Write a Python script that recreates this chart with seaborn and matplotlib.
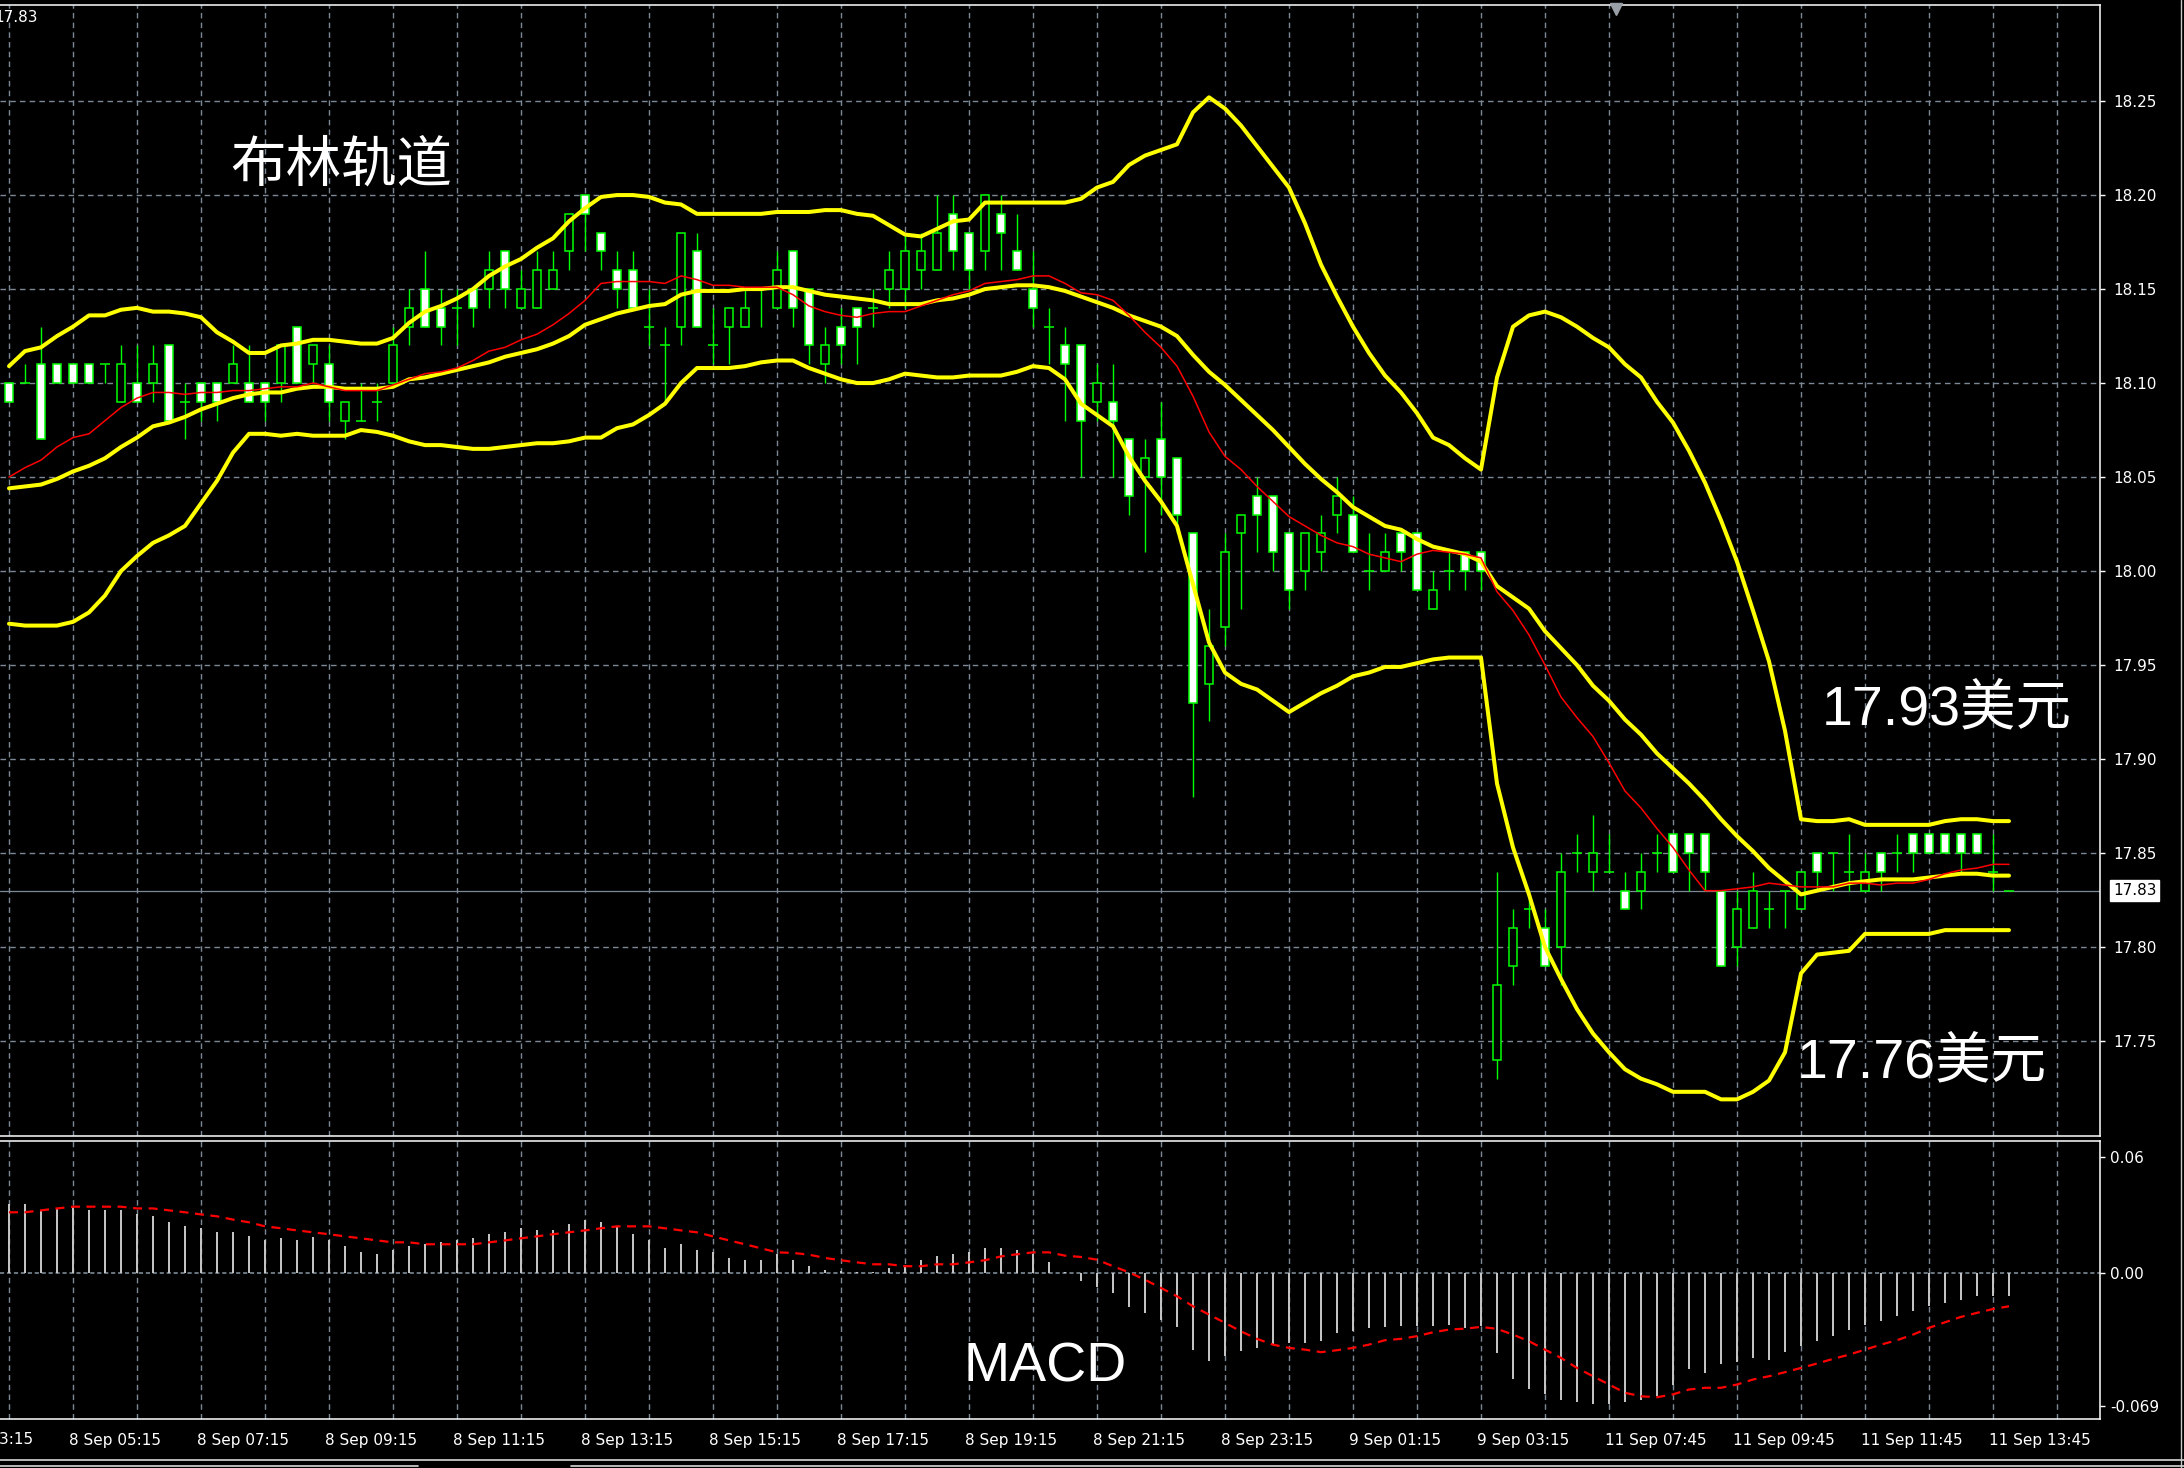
import numpy as np
import matplotlib
matplotlib.use("Agg")
import matplotlib.pyplot as plt
import seaborn as sns
from matplotlib.lines import Line2D
from matplotlib.transforms import ScaledTranslation

# ---------------- 15-minute candles (bar index 0..125) ----------------
open_ = [18.10, 18.10, 18.11, 18.11, 18.11, 18.11, 18.11, 18.09, 18.10, 18.10,
         18.12, 18.09, 18.10, 18.10, 18.10, 18.10, 18.10, 18.10, 18.13, 18.11,
         18.11, 18.08, 18.08, 18.09, 18.10, 18.13, 18.15, 18.14, 18.14, 18.15,
         18.15, 18.17, 18.14, 18.14, 18.15, 18.17, 18.20, 18.18, 18.16, 18.16,
         18.13, 18.12, 18.13, 18.17, 18.12, 18.13, 18.13, 18.15, 18.14, 18.17,
         18.15, 18.11, 18.13, 18.14, 18.14, 18.15, 18.15, 18.16, 18.16, 18.19,
         18.18, 18.17, 18.19, 18.17, 18.15, 18.13, 18.12, 18.12, 18.09, 18.09,
         18.07, 18.05, 18.07, 18.06, 18.02, 17.94, 17.97, 18.02, 18.04, 18.04,
         18.02, 18.00, 18.01, 18.03, 18.03, 18.00, 18.00, 18.02, 18.02, 17.98,
         18.00, 18.01, 18.01, 17.74, 17.79, 17.82, 17.81, 17.80, 17.85, 17.84,
         17.84, 17.83, 17.83, 17.85, 17.86, 17.86, 17.86, 17.83, 17.80, 17.81,
         17.82, 17.83, 17.82, 17.85, 17.85, 17.84, 17.83, 17.85, 17.85, 17.86,
         17.86, 17.86, 17.86, 17.86, 17.84, 17.83]
high = [18.10, 18.11, 18.13, 18.11, 18.11, 18.11, 18.11, 18.12, 18.12, 18.12,
        18.12, 18.10, 18.10, 18.10, 18.12, 18.12, 18.10, 18.12, 18.13, 18.12,
        18.12, 18.09, 18.10, 18.10, 18.13, 18.15, 18.17, 18.15, 18.15, 18.15,
        18.17, 18.17, 18.16, 18.17, 18.17, 18.19, 18.20, 18.18, 18.17, 18.17,
        18.15, 18.13, 18.18, 18.18, 18.14, 18.14, 18.15, 18.15, 18.17, 18.17,
        18.15, 18.13, 18.14, 18.14, 18.15, 18.17, 18.18, 18.18, 18.20, 18.20,
        18.18, 18.20, 18.20, 18.19, 18.17, 18.14, 18.13, 18.12, 18.11, 18.11,
        18.07, 18.07, 18.09, 18.06, 18.02, 17.98, 18.02, 18.03, 18.05, 18.04,
        18.02, 18.02, 18.03, 18.05, 18.04, 18.02, 18.02, 18.02, 18.02, 18.00,
        18.01, 18.01, 18.01, 17.84, 17.82, 17.83, 17.82, 17.85, 17.86, 17.87,
        17.86, 17.84, 17.85, 17.86, 17.86, 17.86, 17.86, 17.83, 17.83, 17.84,
        17.83, 17.83, 17.84, 17.85, 17.85, 17.86, 17.85, 17.85, 17.86, 17.86,
        17.86, 17.86, 17.86, 17.86, 17.86, 17.83]
low = [18.09, 18.10, 18.07, 18.10, 18.10, 18.10, 18.10, 18.09, 18.09, 18.09,
       18.08, 18.07, 18.08, 18.08, 18.10, 18.09, 18.08, 18.09, 18.10, 18.10,
       18.08, 18.07, 18.08, 18.08, 18.10, 18.12, 18.13, 18.12, 18.12, 18.13,
       18.14, 18.14, 18.14, 18.14, 18.15, 18.16, 18.17, 18.16, 18.14, 18.14,
       18.12, 18.09, 18.12, 18.13, 18.11, 18.11, 18.13, 18.13, 18.14, 18.13,
       18.11, 18.10, 18.11, 18.11, 18.13, 18.14, 18.14, 18.15, 18.16, 18.16,
       18.15, 18.16, 18.16, 18.16, 18.13, 18.11, 18.08, 18.05, 18.08, 18.05,
       18.03, 18.01, 18.03, 18.02, 17.88, 17.92, 17.96, 17.98, 18.01, 18.00,
       17.98, 17.99, 18.00, 18.02, 18.01, 17.99, 18.00, 18.00, 17.99, 17.98,
       17.99, 17.99, 17.99, 17.73, 17.78, 17.81, 17.79, 17.78, 17.84, 17.83,
       17.84, 17.82, 17.82, 17.84, 17.84, 17.83, 17.83, 17.79, 17.79, 17.81,
       17.81, 17.81, 17.82, 17.83, 17.83, 17.83, 17.83, 17.83, 17.84, 17.84,
       17.85, 17.85, 17.84, 17.85, 17.83, 17.83]
close = [18.09, 18.10, 18.07, 18.10, 18.10, 18.10, 18.11, 18.11, 18.09, 18.11,
         18.08, 18.09, 18.09, 18.09, 18.11, 18.09, 18.09, 18.12, 18.10, 18.12,
         18.09, 18.09, 18.08, 18.09, 18.12, 18.14, 18.13, 18.13, 18.14, 18.14,
         18.16, 18.15, 18.15, 18.16, 18.16, 18.19, 18.19, 18.17, 18.15, 18.14,
         18.13, 18.12, 18.18, 18.13, 18.12, 18.14, 18.14, 18.15, 18.16, 18.14,
         18.12, 18.12, 18.12, 18.13, 18.14, 18.16, 18.17, 18.17, 18.18, 18.17,
         18.16, 18.20, 18.18, 18.16, 18.14, 18.13, 18.11, 18.08, 18.10, 18.08,
         18.04, 18.06, 18.05, 18.03, 17.93, 17.96, 18.01, 18.03, 18.03, 18.01,
         17.99, 18.02, 18.02, 18.04, 18.01, 18.00, 18.01, 18.01, 17.99, 17.99,
         18.00, 18.00, 18.00, 17.78, 17.81, 17.82, 17.79, 17.84, 17.85, 17.85,
         17.84, 17.82, 17.84, 17.85, 17.84, 17.85, 17.84, 17.79, 17.82, 17.83,
         17.82, 17.83, 17.84, 17.84, 17.85, 17.84, 17.84, 17.84, 17.85, 17.85,
         17.85, 17.85, 17.85, 17.85, 17.84, 17.83]

# ---------------- Bollinger bands (20) and fast moving average ----------------
bb_upper = [18.109, 18.117, 18.119, 18.125, 18.130, 18.136, 18.136, 18.139, 18.140, 18.138,
            18.138, 18.137, 18.135, 18.127, 18.122, 18.116, 18.116, 18.120, 18.121, 18.123,
            18.123, 18.122, 18.121, 18.121, 18.124, 18.132, 18.138, 18.141, 18.145, 18.150,
            18.157, 18.162, 18.166, 18.172, 18.177, 18.186, 18.193, 18.199, 18.200, 18.200,
            18.199, 18.196, 18.195, 18.190, 18.190, 18.190, 18.190, 18.190, 18.191, 18.191,
            18.191, 18.192, 18.192, 18.190, 18.189, 18.184, 18.179, 18.178, 18.182, 18.186,
            18.187, 18.196, 18.196, 18.196, 18.196, 18.196, 18.196, 18.198, 18.204, 18.207,
            18.216, 18.221, 18.224, 18.227, 18.244, 18.252, 18.246, 18.237, 18.226, 18.215,
            18.204, 18.185, 18.163, 18.146, 18.130, 18.116, 18.104, 18.095, 18.084, 18.071,
            18.067, 18.060, 18.054, 18.103, 18.130, 18.136, 18.138, 18.135, 18.130, 18.124,
            18.119, 18.110, 18.103, 18.090, 18.079, 18.064, 18.047, 18.027, 18.005, 17.979,
            17.952, 17.915, 17.868, 17.867, 17.867, 17.868, 17.865, 17.865, 17.865, 17.865,
            17.865, 17.867, 17.868, 17.868, 17.867, 17.867]
bb_middle = [18.044, 18.045, 18.046, 18.049, 18.053, 18.056, 18.060, 18.066, 18.071, 18.077,
             18.079, 18.082, 18.086, 18.089, 18.092, 18.094, 18.095, 18.095, 18.097, 18.098,
             18.098, 18.097, 18.097, 18.097, 18.098, 18.102, 18.103, 18.105, 18.107, 18.109,
             18.111, 18.114, 18.116, 18.118, 18.121, 18.125, 18.131, 18.134, 18.137, 18.139,
             18.141, 18.142, 18.147, 18.149, 18.149, 18.149, 18.150, 18.150, 18.151, 18.151,
             18.149, 18.147, 18.146, 18.145, 18.144, 18.142, 18.142, 18.142, 18.144, 18.145,
             18.147, 18.150, 18.151, 18.152, 18.152, 18.151, 18.149, 18.146, 18.143, 18.140,
             18.136, 18.133, 18.130, 18.125, 18.115, 18.106, 18.099, 18.091, 18.083, 18.075,
             18.066, 18.057, 18.049, 18.042, 18.034, 18.029, 18.024, 18.022, 18.017, 18.013,
             18.011, 18.009, 18.005, 17.992, 17.986, 17.980, 17.968, 17.959, 17.950, 17.939,
             17.931, 17.921, 17.913, 17.903, 17.895, 17.887, 17.878, 17.868, 17.859, 17.851,
             17.842, 17.835, 17.828, 17.830, 17.832, 17.834, 17.835, 17.836, 17.836, 17.836,
             17.837, 17.838, 17.839, 17.839, 17.838, 17.838]
bb_lower = [17.972, 17.971, 17.971, 17.971, 17.973, 17.978, 17.987, 18.000, 18.008, 18.015,
            18.019, 18.024, 18.036, 18.048, 18.063, 18.073, 18.073, 18.072, 18.073, 18.072,
            18.072, 18.072, 18.075, 18.074, 18.072, 18.069, 18.067, 18.067, 18.066, 18.065,
            18.065, 18.066, 18.067, 18.068, 18.068, 18.069, 18.071, 18.071, 18.076, 18.078,
            18.083, 18.089, 18.100, 18.108, 18.108, 18.108, 18.109, 18.111, 18.112, 18.112,
            18.108, 18.105, 18.102, 18.100, 18.100, 18.102, 18.105, 18.104, 18.103, 18.103,
            18.104, 18.104, 18.104, 18.106, 18.109, 18.108, 18.102, 18.089, 18.083, 18.077,
            18.061, 18.048, 18.037, 18.024, 17.993, 17.962, 17.946, 17.940, 17.937, 17.931,
            17.925, 17.930, 17.935, 17.939, 17.944, 17.946, 17.949, 17.949, 17.951, 17.953,
            17.954, 17.954, 17.954, 17.887, 17.853, 17.828, 17.800, 17.783, 17.767, 17.754,
            17.744, 17.735, 17.730, 17.727, 17.723, 17.723, 17.723, 17.719, 17.719, 17.723,
            17.729, 17.744, 17.786, 17.796, 17.797, 17.798, 17.807, 17.807, 17.807, 17.807,
            17.807, 17.809, 17.809, 17.809, 17.809, 17.809]
fast_ma = [18.050, 18.055, 18.059, 18.066, 18.071, 18.073, 18.080, 18.087, 18.092, 18.095,
           18.095, 18.094, 18.095, 18.095, 18.096, 18.096, 18.097, 18.098, 18.098, 18.100,
           18.098, 18.096, 18.096, 18.096, 18.099, 18.102, 18.105, 18.106, 18.108, 18.112,
           18.117, 18.119, 18.123, 18.126, 18.131, 18.137, 18.144, 18.153, 18.154, 18.154,
           18.154, 18.153, 18.157, 18.155, 18.152, 18.152, 18.151, 18.151, 18.151, 18.147,
           18.141, 18.138, 18.136, 18.135, 18.137, 18.138, 18.138, 18.141, 18.144, 18.147,
           18.149, 18.153, 18.154, 18.155, 18.157, 18.157, 18.153, 18.148, 18.147, 18.144,
           18.136, 18.127, 18.119, 18.109, 18.093, 18.074, 18.061, 18.054, 18.045, 18.037,
           18.029, 18.024, 18.019, 18.015, 18.013, 18.009, 18.007, 18.005, 18.009, 18.011,
           18.010, 18.009, 18.007, 17.989, 17.979, 17.966, 17.950, 17.933, 17.922, 17.912,
           17.898, 17.883, 17.874, 17.863, 17.853, 17.841, 17.830, 17.830, 17.831, 17.832,
           17.834, 17.833, 17.832, 17.832, 17.832, 17.834, 17.834, 17.833, 17.834, 17.834,
           17.836, 17.839, 17.841, 17.842, 17.844, 17.844]

# ---------------- MACD histogram and signal line ----------------
macd_hist = [0.0360, 0.0360, 0.0328, 0.0332, 0.0346, 0.0328, 0.0328, 0.0328, 0.0308, 0.0297,
             0.0266, 0.0245, 0.0233, 0.0214, 0.0214, 0.0194, 0.0173, 0.0181, 0.0173, 0.0185,
             0.0173, 0.0142, 0.0111, 0.0100, 0.0121, 0.0142, 0.0152, 0.0162, 0.0173, 0.0183,
             0.0204, 0.0214, 0.0235, 0.0225, 0.0225, 0.0256, 0.0277, 0.0266, 0.0239, 0.0204,
             0.0173, 0.0131, 0.0152, 0.0121, 0.0111, 0.0080, 0.0069, 0.0069, 0.0100, 0.0069,
             0.0038, 0.0017, 0.0009, 0.0004, 0.0004, 0.0026, 0.0043, 0.0069, 0.0090, 0.0100,
             0.0111, 0.0131, 0.0131, 0.0121, 0.0100, 0.0059, 0.0003, -0.0043, -0.0075, -0.0104,
             -0.0176, -0.0207, -0.0242, -0.0280, -0.0398, -0.0458, -0.0429, -0.0406, -0.0389, -0.0372,
             -0.0363, -0.0363, -0.0354, -0.0311, -0.0303, -0.0285, -0.0280, -0.0273, -0.0277, -0.0277,
             -0.0268, -0.0285, -0.0277, -0.0415, -0.0550, -0.0600, -0.0630, -0.0660, -0.0670, -0.0680,
             -0.0680, -0.0670, -0.0660, -0.0640, -0.0580, -0.0500, -0.0520, -0.0470, -0.0460, -0.0440,
             -0.0450, -0.0410, -0.0380, -0.0354, -0.0328, -0.0294, -0.0268, -0.0251, -0.0225, -0.0199,
             -0.0173, -0.0156, -0.0138, -0.0121, -0.0118, -0.0118]
macd_signal = [0.0315, 0.0315, 0.0325, 0.0335, 0.0344, 0.0344, 0.0344, 0.0344, 0.0335, 0.0335,
               0.0325, 0.0315, 0.0304, 0.0294, 0.0277, 0.0263, 0.0242, 0.0232, 0.0221, 0.0211,
               0.0201, 0.0190, 0.0180, 0.0169, 0.0159, 0.0159, 0.0149, 0.0149, 0.0149, 0.0149,
               0.0159, 0.0169, 0.0180, 0.0190, 0.0201, 0.0211, 0.0221, 0.0232, 0.0242, 0.0242,
               0.0242, 0.0232, 0.0221, 0.0211, 0.0190, 0.0169, 0.0149, 0.0128, 0.0107, 0.0104,
               0.0095, 0.0078, 0.0066, 0.0055, 0.0045, 0.0045, 0.0035, 0.0035, 0.0045, 0.0045,
               0.0055, 0.0066, 0.0086, 0.0097, 0.0107, 0.0107, 0.0090, 0.0083, 0.0069, 0.0035,
               0.0003, -0.0035, -0.0078, -0.0121, -0.0173, -0.0216, -0.0259, -0.0303, -0.0342, -0.0372,
               -0.0389, -0.0398, -0.0411, -0.0401, -0.0389, -0.0372, -0.0349, -0.0342, -0.0328, -0.0308,
               -0.0294, -0.0289, -0.0280, -0.0290, -0.0320, -0.0354, -0.0398, -0.0441, -0.0493, -0.0536,
               -0.0579, -0.0622, -0.0640, -0.0645, -0.0630, -0.0605, -0.0596, -0.0596, -0.0579, -0.0553,
               -0.0536, -0.0515, -0.0493, -0.0470, -0.0446, -0.0424, -0.0398, -0.0372, -0.0349, -0.0320,
               -0.0285, -0.0256, -0.0228, -0.0207, -0.0187, -0.0173]

# ---------------- axis labels ----------------
price_ticks = [17.75, 17.80, 17.85, 17.90, 17.95, 18.00, 18.05, 18.10, 18.15, 18.20, 18.25]
macd_ticks = [0.06, 0.00, -0.069]
macd_tick_labels = ["0.06", "0.00", "-0.069"]
time_tick_pos = [4, 12, 20, 28, 36, 44, 52, 60, 68, 76, 84, 92, 100, 108, 116, 124]
time_labels = ["8 Sep 05:15", "8 Sep 07:15", "8 Sep 09:15", "8 Sep 11:15", "8 Sep 13:15",
               "8 Sep 15:15", "8 Sep 17:15", "8 Sep 19:15", "8 Sep 21:15", "8 Sep 23:15",
               "9 Sep 01:15", "9 Sep 03:15", "11 Sep 07:45", "11 Sep 09:45", "11 Sep 11:45",
               "11 Sep 13:45"]
first_time_pos = -4
first_time_label = "8 Sep 03:15"
title_text = "布林轨道"
upper_note = "17.93美元"
lower_note = "17.76美元"
panel_note = "MACD"

# ---------------- style ----------------
sns.set_style("dark", {"axes.facecolor": "black", "figure.facecolor": "black"})
plt.rcParams["font.family"] = ["DejaVu Sans", "Noto Sans CJK SC"]
plt.rcParams["lines.scale_dashes"] = False
plt.rcParams["axes.unicode_minus"] = False

GRID = "#7B8996"
DASH = (0, (4.0, 3.0))
GREEN = "#00FF00"
YELLOW = "#FFFF00"
RED = "#FF0000"

W, H = 2184, 1468
fig = plt.figure(figsize=(W / 100, H / 100), dpi=100, facecolor="black")


def box(left, top, right, bottom):
    return [left / W, 1 - bottom / H, (right - left) / W, (bottom - top) / H]


ax = fig.add_axes(box(0, 5, 2100, 1136))
ax2 = fig.add_axes(box(0, 1141, 2100, 1419))

xs = np.arange(len(close))
o, h, l, c = map(np.asarray, (open_, high, low, close))

# ---------------- price panel ----------------
ax.vlines(xs, l, h, color=GREEN, linewidth=1.0, zorder=2)
is_doji = np.isclose(o, c)
body_x = xs[~is_doji]
body_lo = np.minimum(o, c)[~is_doji]
body_hi = np.maximum(o, c)[~is_doji]
body_col = np.where(c[~is_doji] < o[~is_doji], "white", "black")
ax.bar(body_x, body_hi - body_lo, bottom=body_lo, width=0.56, color=body_col,
       edgecolor=GREEN, linewidth=1.1, zorder=3)
ax.hlines(c[is_doji], xs[is_doji] - 0.32, xs[is_doji] + 0.32, color=GREEN,
          linewidth=1.1, zorder=3)

for band in (bb_upper, bb_middle, bb_lower):
    sns.lineplot(x=xs, y=band, ax=ax, color=YELLOW, linewidth=2.9, zorder=5)
sns.lineplot(x=xs, y=fast_ma, ax=ax, color=RED, linewidth=1.1, zorder=6)

ax.axhline(close[-1], color=GRID, linewidth=0.9, zorder=1)

ax.set_xlim(-9 / 16, (2100 - 9) / 16)
ax.set_ylim(17.6995, 18.3011)
ax.set_xticks(np.arange(0, 129, 4))
ax.set_yticks(price_ticks)
ax.set_yticklabels([f"{v:.2f}" for v in price_ticks])
ax.yaxis.tick_right()
ax.tick_params(axis="x", length=0, labelbottom=False)
ax.tick_params(axis="y", direction="out", length=3.6, width=1, color="white",
               labelcolor="white", labelsize=11, pad=6)
ax.grid(True, axis="both", color=GRID, linestyle=DASH, linewidth=1.0)
ax.set_axisbelow(True)
ax.set_xlabel("")
ax.set_ylabel("")

ax.annotate(f"{close[-1]:.2f}", xy=(1, close[-1]), xycoords=("axes fraction", "data"),
            xytext=(9.5, 0), textcoords="offset points", ha="left", va="center",
            fontsize=11, color="black",
            bbox=dict(boxstyle="square,pad=0.18", fc="white", ec="white"),
            annotation_clip=False)

note_font = ["Liberation Sans", "Noto Sans CJK SC"]
ax.text(230 / 2100, 1 - (166 - 5) / 1131, title_text, transform=ax.transAxes,
        fontsize=40, color="white", ha="left", va="center", family=["Noto Sans CJK SC"])
ax.text(1822 / 2100, 1 - (710 - 5) / 1131, upper_note, transform=ax.transAxes,
        fontsize=40, color="white", ha="left", va="center", family=note_font)
ax.text(1797 / 2100, 1 - (1063 - 5) / 1131, lower_note, transform=ax.transAxes,
        fontsize=40, color="white", ha="left", va="center", family=note_font)

ax.plot([1616 / 2100], [1 - 4 / 1131], marker="v", markersize=8, color="#9AA0A8",
        transform=ax.transAxes, clip_on=False, zorder=10)

# ---------------- MACD panel ----------------
ax2.vlines(xs, 0, macd_hist, color="#C8C8C8", linewidth=1.4, zorder=3)
sns.lineplot(x=xs, y=macd_signal, ax=ax2, color=RED, linewidth=1.6,
             linestyle=(0, (6.5, 4.7)), zorder=4)
ax2.axhline(0, color=GRID, linestyle=(0, (3.0, 2.0)), linewidth=1.2, zorder=2)

ax2.set_xlim(-9 / 16, (2100 - 9) / 16)
ax2.set_ylim(-0.0758, 0.0685)
ax2.set_yticks(macd_ticks)
ax2.set_yticklabels(macd_tick_labels)
ax2.yaxis.tick_right()
ax2.set_xticks(time_tick_pos)
ax2.set_xticklabels(time_labels)
ax2.set_xticks(np.arange(0, 129, 8), minor=True)
ax2.tick_params(axis="x", which="major", direction="out", length=4.5, width=1,
                color="white", labelcolor="white", labelsize=11, pad=5.5)
ax2.tick_params(axis="x", which="minor", length=0)
ax2.tick_params(axis="y", direction="out", length=3.6, width=1, color="white",
                labelcolor="white", labelsize=11, pad=3.5)
ax2.grid(True, axis="x", which="both", color=GRID, linestyle=DASH, linewidth=1.0)
ax2.grid(False, axis="y")
ax2.set_axisbelow(True)
ax2.set_xlabel("")
ax2.set_ylabel("")

shift = ScaledTranslation(-4 / 100, 0, fig.dpi_scale_trans)
for lbl in ax2.get_xticklabels():
    lbl.set_horizontalalignment("left")
    lbl.set_transform(lbl.get_transform() + shift)

ax2.annotate(first_time_label, xy=(first_time_pos, 0), xycoords=("data", "axes fraction"),
             xytext=(-3, -9.6), textcoords="offset points", ha="left", va="top",
             fontsize=11, color="white", annotation_clip=False)

ax2.text(964 / 2100, 1 - (1367 - 1141) / 278, panel_note, transform=ax2.transAxes,
         fontsize=40, color="white", ha="left", va="center", family=note_font)

for a in (ax, ax2):
    a.set_facecolor("black")
    a.spines["left"].set_visible(False)
    for side in ("top", "right", "bottom"):
        a.spines[side].set_visible(True)
        a.spines[side].set_color("white")
        a.spines[side].set_linewidth(1.1)

# symbol price in the upper-left corner
fig.text(-6 / W, 1 - 10 / H, f"{close[-1]:.2f}", color="white", fontsize=11,
         ha="left", va="top")

# window frame lines below the time axis and on the right edge
fig.add_artist(Line2D([0, 1], [1 - 1460 / H] * 2, color="#D8D8D8", linewidth=1.2))
fig.add_artist(Line2D([0, 418 / W], [1 - 1466 / H] * 2, color="#D8D8D8", linewidth=1.2))
fig.add_artist(Line2D([571 / W, 1], [1 - 1466 / H] * 2, color="#D8D8D8", linewidth=1.2))
fig.add_artist(Line2D([2181 / W] * 2, [0, 1], color="#C8C8C8", linewidth=1.0))

fig.savefig("out.png", dpi=100, facecolor="black")
